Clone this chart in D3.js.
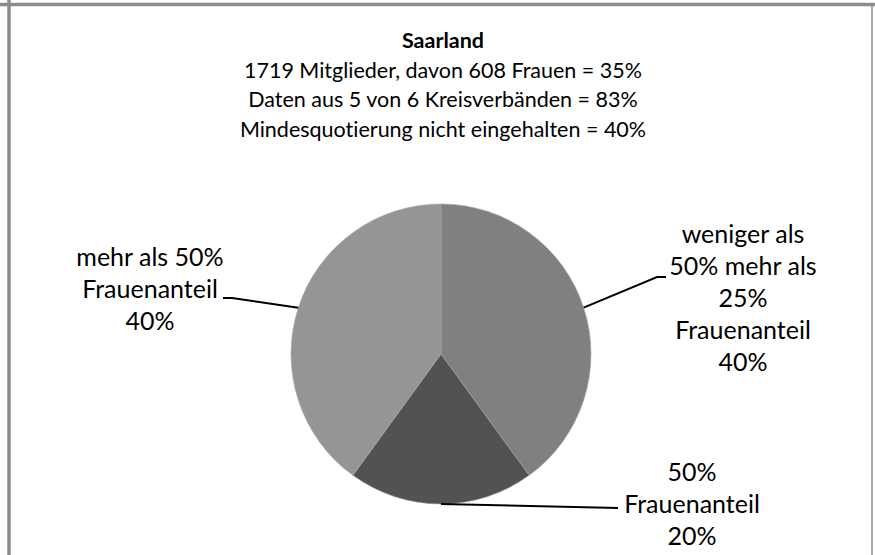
<!DOCTYPE html>
<html>
<head>
<meta charset="utf-8">
<script src="https://cdn.jsdelivr.net/npm/d3@7"></script>
<style>
  body { margin: 0; background: #fff; }
  svg { display: block; font-family: Lato, "Open Sans", sans-serif; font-variant-ligatures: none; }
</style>
</head>
<body>
<div id="chart"></div>
<script>
let width = 875;
let height = 555;

// data
let titleLines = ["Saarland",
                  "1719 Mitglieder, davon 608 Frauen = 35%",
                  "Daten aus 5 von 6 Kreisverbänden = 83%",
                  "Mindesquotierung nicht eingehalten = 40%"]

let categories = ["weniger als 50% mehr als 25% Frauenanteil", "50% Frauenanteil", "mehr als 50% Frauenanteil"]
let values = [40, 20, 40]
let labelLines = [["weniger als", "50% mehr als", "25%", "Frauenanteil", "40%"],
                  ["50%", "Frauenanteil", "20%"],
                  ["mehr als 50%", "Frauenanteil", "40%"]]
let colors = ["#808080", "#525252", "#959595"]

// layout of label boxes (center x, first baseline y) and where leader meets them
let labelBox = [{x: 743, y: 243, lx: 666, ly: 277},
                {x: 692, y: 481, lx: 618, ly: 508},
                {x: 150, y: 266, lx: 223, ly: 298}]

let cx = 441, cy = 354, radius = 150

let svg = d3.select('#chart')
            .append('svg')
            .attr('width', width)
            .attr('height', height)

svg.append('rect').attr('width', width).attr('height', height).attr('fill', '#fff')

// frame
svg.append('line').attr('x1', 0).attr('x2', width).attr('y1', 4.5).attr('y2', 4.5)
    .attr('stroke', '#8c8c8c').attr('stroke-width', 3.5)
svg.append('line').attr('x1', 9).attr('x2', 9).attr('y1', 0).attr('y2', height)
    .attr('stroke', '#8c8c8c').attr('stroke-width', 3.5)
svg.append('line').attr('x1', 872).attr('x2', 872).attr('y1', 6).attr('y2', height)
    .attr('stroke', '#6e6e6e').attr('stroke-width', 1.2)

// title
let title = svg.append('g').attr('text-anchor', 'middle').attr('fill', '#000')
title.selectAll('text')
    .data(titleLines)
    .enter()
    .append('text')
        .attr('x', 443)
        .attr('y', (d, i) => 48 + i * 29.5)
        .style('font-size', '21.5px')
        .style('font-weight', (d, i) => i == 0 ? 'bold' : 'normal')
        .text(d => d)

// pie
let pie = d3.pie().sort(null).value(d => d)
let arcs = pie(values)
let arc = d3.arc().innerRadius(0).outerRadius(radius)

let g = svg.append('g').attr('transform', 'translate(' + cx + ',' + cy + ')')
g.selectAll('path')
    .data(arcs)
    .enter()
    .append('path')
        .attr('d', arc)
        .attr('fill', (d, i) => colors[i])
        .attr('stroke', '#a8a8a8')
        .attr('stroke-width', 0.6)

// leader lines: from arc midpoint on the rim to label
arcs.forEach(function(a, i) {
    let mid = (a.startAngle + a.endAngle) / 2
    let px = cx + radius * Math.sin(mid)
    let py = cy - radius * Math.cos(mid)
    let b = labelBox[i]
    let pts
    if (i == 0) pts = [[px, py], [b.lx - 9, b.ly], [b.lx, b.ly]]
    else if (i == 2) pts = [[b.lx, b.ly], [b.lx + 9, b.ly], [px, py]]
    else pts = [[px, py], [b.lx, b.ly]]
    svg.append('path')
        .attr('d', d3.line()(pts))
        .attr('fill', 'none')
        .attr('stroke', '#000')
        .attr('stroke-width', 2)
})

// labels
labelLines.forEach(function(lines, i) {
    let b = labelBox[i]
    svg.append('g').attr('text-anchor', 'middle').attr('fill', '#000')
        .selectAll('text')
        .data(lines)
        .enter()
        .append('text')
            .attr('x', b.x)
            .attr('y', (d, j) => b.y + j * 32)
            .style('font-size', '25px')
            .text(d => d)
})
</script>
</body>
</html>
